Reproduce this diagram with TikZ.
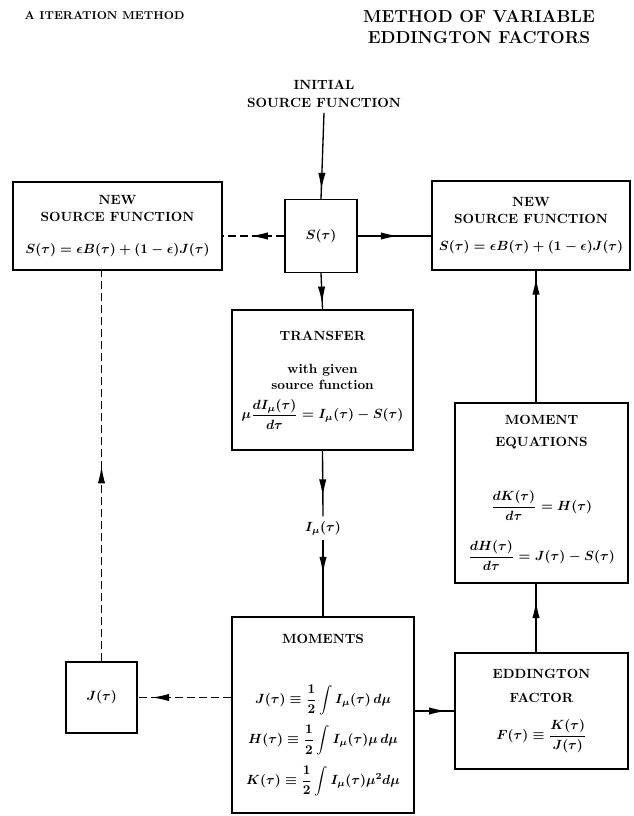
\documentclass[tikz,border=0pt]{standalone}
\usepackage{amsmath,amssymb}
\usetikzlibrary{arrows.meta,positioning,calc,decorations.markings}

\begin{document}
\begin{tikzpicture}[x=0.75pt,y=-0.75pt,>=Latex,
 box/.style={draw,line width=1pt,align=center,font=\bfseries\boldmath,inner sep=2pt},
 lbl/.style={align=center,font=\bfseries\boldmath},
 arr/.style={line width=1pt},
 darr/.style={arr,dash pattern=on 6pt off 3pt},
 tip/.style={postaction={solid,decorate},decoration={markings,mark=at position #1 with {\arrow{Latex[length=13pt,width=5.5pt]}}}}]
 \useasboundingbox (0,0) rectangle (633,816);
 % headings
 \node[lbl,anchor=west,font=\bfseries\fontsize{8.6}{10}\selectfont] (iter) at (20,16) {A ITERATION METHOD};
 \node[lbl,font=\bfseries\fontsize{13}{16}\selectfont] (vef) at (479,27) {METHOD OF VARIABLE\\EDDINGTON FACTORS};
 \node[lbl] (init) at (324,94) {INITIAL\\[2pt]SOURCE FUNCTION};
 % boxes
 \node[box,minimum width=156.75pt,minimum height=66pt] (newL) at (117.5,226)
  {NEW\\[1pt]SOURCE FUNCTION\\[12pt]$S(\tau)=\epsilon B(\tau)+(1-\epsilon)J(\tau)$};
 \node[box,minimum width=54pt,minimum height=54.75pt] (src) at (321,236) {$S(\tau)$};
 \node[box,minimum width=148.5pt,minimum height=66.75pt] (newR) at (531,225.5)
  {NEW\\[1pt]SOURCE FUNCTION\\[8pt]$S(\tau)=\epsilon B(\tau)+(1-\epsilon)J(\tau)$};
 \node[box,minimum width=135.75pt,minimum height=105pt] (trans) at (322.5,380)
  {TRANSFER\\[13pt]with given\\source function\\[6pt]$\displaystyle\mu\frac{dI_\mu(\tau)}{d\tau}=I_\mu(\tau)-S(\tau)$};
 \node[lbl] (imu) at (323,528) {$I_\mu(\tau)$};
 \node[box,minimum width=136.5pt,minimum height=147pt] (mom) at (323,715)
  {MOMENTS\\[30pt]$\displaystyle J(\tau)\equiv\frac{1}{2}\int I_\mu(\tau)\,d\mu$\\[7pt]
   $\displaystyle H(\tau)\equiv\frac{1}{2}\int I_\mu(\tau)\mu\,d\mu$\\[7pt]
   $\displaystyle K(\tau)\equiv\frac{1}{2}\int I_\mu(\tau)\mu^2d\mu$};
 \node[box,minimum width=53.25pt,minimum height=53.25pt] (jbox) at (101.5,697.5) {$J(\tau)$};
 \node[box,minimum width=129.75pt,minimum height=135pt] (momeq) at (541.5,493)
  {MOMENT\\[4pt]EQUATIONS\\[30pt]$\displaystyle\frac{dK(\tau)}{d\tau}=H(\tau)$\\[14pt]
   $\displaystyle\frac{dH(\tau)}{d\tau}=J(\tau)-S(\tau)$};
 \node[box,minimum width=129.75pt,minimum height=87pt] (edd) at (541.5,711)
  {EDDINGTON\\[6pt]FACTOR\\[12pt]$\displaystyle F(\tau)\equiv\frac{K(\tau)}{J(\tau)}$};
 % connectors
 \draw[arr,tip=0.9] (init.south) -- (src.north);
 \draw[darr,tip=0.55] (src.west) -- (src.west -| newL.east);
 \draw[arr,tip=0.55] (src.east) -- (src.east -| newR.west);
 \draw[arr,tip=0.85] (src.south) -- (trans.north);
 \draw[arr,tip=0.7] (trans.south) -- (imu.north);
 \draw[arr,tip=0.45] (imu.south) -- (mom.north);
 \draw[darr,tip=0.85] (mom.west |- jbox.east) -- (jbox.east);
 \draw[darr,tip=0.5] (jbox.north) -- (jbox.north |- newL.south);
 \draw[arr,tip=0.8] (mom.east |- edd.west) -- (edd.west);
 \draw[arr,tip=0.75] (edd.north -| 536,0) -- (536,0 |- momeq.south);
 \draw[arr,tip=0.95] (momeq.north -| 536,0) -- (536,0 |- newR.south);
\end{tikzpicture}
\end{document}
